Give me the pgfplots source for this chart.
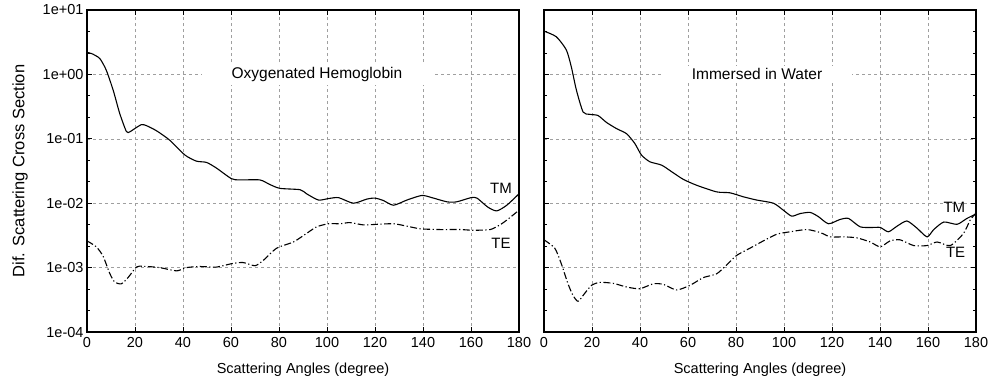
\documentclass[border=0pt]{standalone}
\usepackage{fontspec}
\setmainfont{Liberation Sans}
\usepackage{pgfplots}
\pgfplotsset{compat=1.18}
\usepackage{pgfplotstable}

\pgfplotstableread{
x y
0 2.2
2 2.1
5.3 1.77
8 1.17
10.9 0.57
13.6 0.25
16.4 0.13
17.8 0.128
20 0.145
22.7 0.166
24.8 0.16
29 0.133
34.5 0.095
40.8 0.056
45.6 0.045
49.8 0.043
54 0.035
60.2 0.024
63.7 0.023
72 0.023
76.2 0.0195
80.4 0.017
88.8 0.0162
91.5 0.014
96.4 0.0112
100.6 0.0118
104.8 0.0122
111 0.0100
116.6 0.0116
120 0.0120
123.5 0.0110
127.7 0.0093
133.3 0.0112
139.5 0.0132
143.7 0.0122
150 0.0105
154 0.0105
160 0.0122
162.5 0.0120
167 0.0087
170.7 0.0076
174.9 0.0093
180 0.0140
}\leftTM

\pgfplotstableread{
x y
0 0.0026
3.9 0.0021
6.7 0.0015
9.5 0.00081
11.5 0.0006
14.3 0.00056
17.1 0.0007
20.6 0.00102
23.4 0.00105
30.3 0.0010
37.3 0.00089
41.4 0.0010
47 0.00104
54 0.00102
60.2 0.00115
65 0.0012
70 0.00107
73.4 0.00129
79 0.0020
86 0.0025
91.5 0.0034
95.7 0.0043
100.6 0.0048
105.4 0.0048
109.6 0.0050
115.2 0.0046
120.7 0.0047
127.7 0.0048
133.3 0.0044
139 0.0040
147 0.0039
155.5 0.0039
161 0.0038
168 0.0039
172 0.0046
175 0.0055
180 0.0078
}\leftTE

\pgfplotstableread{
x y
0 4.7
5.1 3.85
9.3 2.4
11.4 1.3
13.5 0.57
16.3 0.26
19 0.24
22.5 0.23
26 0.18
30.2 0.144
34.4 0.12
37.8 0.085
40.6 0.056
44.1 0.044
49 0.039
53.1 0.031
58 0.0235
63.6 0.019
71.9 0.015
77.5 0.0145
83 0.0126
88.6 0.0112
95.6 0.0100
99.7 0.0078
103.2 0.0063
106.7 0.0069
110.9 0.0072
114.3 0.0062
118.5 0.0048
123.4 0.0056
126.9 0.0058
131.7 0.0043
136.6 0.0042
140.1 0.0042
143.5 0.0036
147.1 0.0044
151.2 0.0053
155.4 0.0041
159.6 0.0030
162.4 0.0039
166.6 0.0051
172.1 0.0047
176.2 0.0058
180 0.0068
}\rightTM

\pgfplotstableread{
x y
0 0.0027
4.5 0.0020
7.2 0.00115
10 0.00056
12.1 0.00037
14.2 0.0003
17 0.0004
19.8 0.00053
23.2 0.00059
28.8 0.00057
34.4 0.0005
39.9 0.00047
45.5 0.00056
49.7 0.00055
55.2 0.00045
60.8 0.00053
66.4 0.0007
71.9 0.0008
76.1 0.0011
80.3 0.00155
85.8 0.0020
91.4 0.0026
97 0.0033
102.6 0.0036
109.5 0.0039
115.1 0.0035
119.3 0.0030
124.9 0.0030
130.3 0.0029
135.9 0.0025
140.1 0.0021
144.2 0.0026
148.4 0.0027
154 0.0022
159.6 0.0022
163.8 0.0025
169.3 0.0022
174.8 0.0034
177.6 0.0055
180 0.0070
}\rightTE

\begin{document}
\begin{tikzpicture}
\useasboundingbox (-87pt,-52pt) rectangle (905pt,332pt);
\begin{axis}[at={(0pt,0pt)}, anchor=south west,
    ymode=log,
    scale only axis,
    width=432pt, height=322pt,
    xmin=0, xmax=180, ymin=1e-4, ymax=10,
    xtick={0,20,...,180},
    ytick={1e-4,1e-3,1e-2,1e-1,1,10},
    minor ytick={2.154e-4,4.642e-4,2.154e-3,4.642e-3,2.154e-2,4.642e-2,0.2154,0.4642,2.154,4.642},
    grid=major,
    major grid style={gray!75, dashed, line width=0.6pt},
    axis line style={line width=1.6pt},
    tick style={black, line width=0.8pt},
    tick align=inside,
    major tick length=5pt, minor tick length=3pt,
    /pgf/number format/assume math mode=true,
    ticklabel style={font=\fontsize{14.5}{16}\selectfont},
    xticklabel style={yshift=-2pt},
    xlabel style={font=\fontsize{14.5}{17}\selectfont, yshift=-8pt},
    ylabel style={font=\fontsize{16.5}{19}\selectfont, yshift=8pt},
    xlabel={Scattering Angles (degree)},
    ytick pos=left,
    yticklabels={\mbox{1e-04},\mbox{1e-03},\mbox{1e-02},\mbox{1e-01},\mbox{1e+00},\mbox{1e+01}},
    ylabel={Dif. Scattering Cross Section},
  ]
  \addplot[black, line width=1.1pt, smooth, tension=0.4] table[x=x,y=y] {\leftTM};
  \addplot[black, line width=1.1pt, smooth, tension=0.4, dash pattern=on 7pt off 2.5pt on 1.2pt off 2.5pt] table[x=x,y=y] {\leftTE};
  \node[fill=white, inner xsep=30pt, inner ysep=3pt, font=\fontsize{15.5}{18}\selectfont] at (axis cs:95.8,1) {Oxygenated Hemoglobin};
  \node[font=\fontsize{15}{18}\selectfont] at (axis cs:172.5,0.0172) {TM};
  \node[font=\fontsize{15}{18}\selectfont] at (axis cs:172.5,0.0024) {TE};
\end{axis}
\begin{axis}[at={(457pt,0pt)}, anchor=south west,
    ymode=log,
    scale only axis,
    width=432pt, height=322pt,
    xmin=0, xmax=180, ymin=1e-4, ymax=10,
    xtick={0,20,...,180},
    ytick={1e-4,1e-3,1e-2,1e-1,1,10},
    minor ytick={2.154e-4,4.642e-4,2.154e-3,4.642e-3,2.154e-2,4.642e-2,0.2154,0.4642,2.154,4.642},
    grid=major,
    major grid style={gray!75, dashed, line width=0.6pt},
    axis line style={line width=1.6pt},
    tick style={black, line width=0.8pt},
    tick align=inside,
    major tick length=5pt, minor tick length=3pt,
    /pgf/number format/assume math mode=true,
    ticklabel style={font=\fontsize{14.5}{16}\selectfont},
    xticklabel style={yshift=-2pt},
    xlabel style={font=\fontsize{14.5}{17}\selectfont, yshift=-8pt},
    xlabel={Scattering Angles (degree)},
    yticklabels={},
  ]
  \addplot[black, line width=1.1pt, smooth, tension=0.4] table[x=x,y=y] {\rightTM};
  \addplot[black, line width=1.1pt, smooth, tension=0.4, dash pattern=on 7pt off 2.5pt on 1.2pt off 2.5pt] table[x=x,y=y] {\rightTE};
  \node[fill=white, inner xsep=30pt, inner ysep=3pt, font=\fontsize{15.5}{18}\selectfont] at (axis cs:88.75,1) {Immersed in Water};
  \node[font=\fontsize{15}{18}\selectfont] at (axis cs:171,0.0087) {TM};
  \node[font=\fontsize{15}{18}\selectfont] at (axis cs:171.5,0.0017) {TE};
\end{axis}
\end{tikzpicture}
\end{document}
